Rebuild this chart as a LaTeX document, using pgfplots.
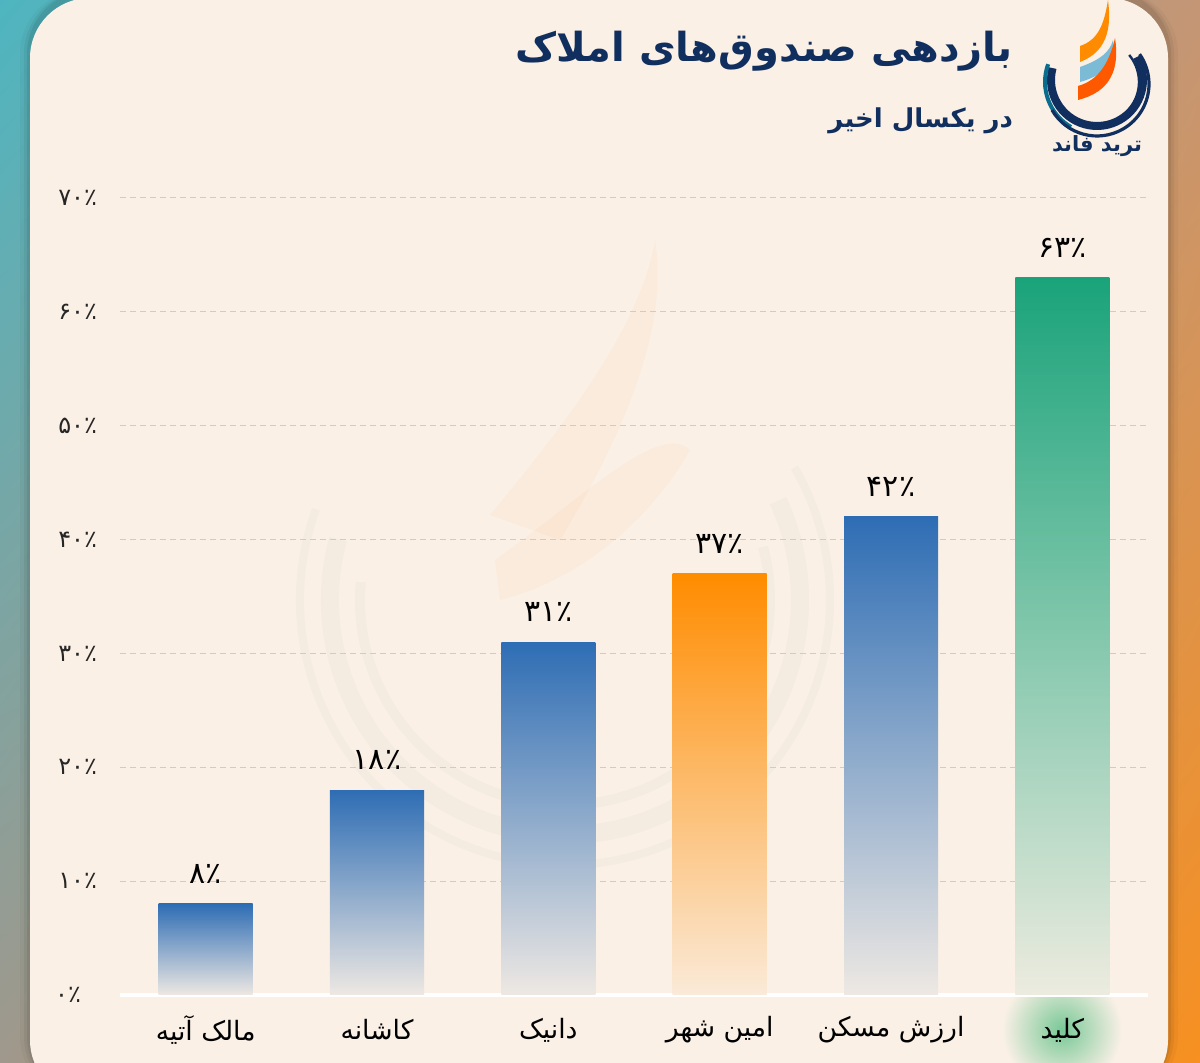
\documentclass[border=0pt]{standalone}
\usepackage{pgfplots}
\pgfplotsset{compat=1.18}
\usetikzlibrary{shadings}
\usepackage{fontspec}
\newfontfamily\arfont[Script=Arabic]{DejaVu Sans}
\TeXXeTstate=1
\definecolor{cream}{HTML}{FAF0E6}
\definecolor{barblue}{HTML}{2E6DB4}
\definecolor{barorange}{HTML}{FF8C00}
\definecolor{bargreen}{HTML}{1AA37A}
\definecolor{navy}{HTML}{102F5E}
\definecolor{gridc}{HTML}{D3CBC3}
\definecolor{bgul}{RGB}{78,181,192}
\definecolor{bgll}{RGB}{160,152,140}
\definecolor{bgur}{RGB}{196,150,118}
\definecolor{bglr}{RGB}{247,144,32}
\definecolor{glow}{RGB}{120,200,150}
\pgfplotsset{
  mybar/.style={ybar, bar width=47pt, bar shift=0pt, draw=none, top color=#1, bottom color=cream!94!#1,
    nodes near coords, point meta=explicit symbolic},
}
\begin{document}
\begin{tikzpicture}
\useasboundingbox (0,0) rectangle (600pt,531.5pt);
\shade[upper left=bgul, lower left=bgll, upper right=bgur, lower right=bglr]
  (0,0) rectangle (600pt,531.5pt);
\begin{scope}[yshift=531.5pt, x=0.5pt, y=-0.5pt]
  % card shadow
  \foreach \d/\o in {10/0.03,6/0.05,3/0.07}{
    \fill[black,opacity=\o,rounded corners=32pt] (30-\d,-10) rectangle (1168+\d,1100);
  }
  \fill[cream,rounded corners=30pt] (30,-2) rectangle (1168,1100);
  % faint watermark
  \begin{scope}[opacity=0.035]
    \draw[gray!80!black,line width=9pt] (565,600) ++(195:235) arc[start angle=195,end angle=-25,radius=235];
    \draw[gray!80!black,line width=5pt] (565,600) ++(185:205) arc[start angle=185,end angle=-15,radius=205];
    \draw[gray!80!black,line width=4pt] (565,600) ++(200:265) arc[start angle=200,end angle=-30,radius=265];
  \end{scope}
  \begin{scope}[opacity=0.045]
    \fill[orange] (490,515) .. controls (560,430) and (640,330) .. (655,240) .. controls (670,330) and (620,440) .. (560,540) -- cycle;
    \fill[orange] (495,560) .. controls (580,500) and (660,420) .. (690,450) .. controls (650,520) and (580,580) .. (500,600) -- cycle;
  \end{scope}
  % glow behind last category
  \shade[inner color=glow, outer color=cream] (1062,1030) circle[radius=60];
  % logo
  \fill[orange!90!yellow] (1080,46) .. controls (1098,40) and (1104,25) .. (1108,0) .. controls (1112,30) and (1106,52) .. (1080,62) -- cycle;
  \fill[cyan!45!teal!60!white] (1080,67) .. controls (1100,60) and (1110,52) .. (1113,40) .. controls (1116,60) and (1106,75) .. (1080,82) -- cycle;
  \fill[orange!70!red] (1078,86) .. controls (1100,80) and (1110,60) .. (1115,38) .. controls (1120,70) and (1110,92) .. (1078,100) -- cycle;
  \draw[navy,line width=4pt] (1097,80) ++(195:46) arc[start angle=195,end angle=-30,radius=46];
  \draw[navy!70!cyan,line width=2pt] (1097,82) ++(200:52) arc[start angle=200,end angle=120,radius=52];
  \draw[navy,line width=1.6pt] (1097,84) ++(150:52) arc[start angle=150,end angle=-35,radius=52];
  \draw[navy,line width=1.2pt] (1097,82) ++(120:42) arc[start angle=120,end angle=-40,radius=42];
  \node[navy,font=\arfont\bfseries\fontsize{10.5}{12}\selectfont] at (1097,146) {\beginR ترید فاند\endR};
  % titles
  \node[navy,anchor=east,font=\arfont\bfseries\fontsize{20}{24}\selectfont] at (1020,51) {\beginR بازدهی صندوق^^^^200cهای املاک\endR};
  \node[navy,anchor=east,font=\arfont\bfseries\fontsize{13}{16}\selectfont] at (1020,121) {\beginR در یکسال اخیر\endR};
\end{scope}
\begin{axis}[
  at={(60pt,34pt)}, anchor=south west,
  scale only axis, width=514pt, height=398.5pt,
  xmin=-0.5, xmax=5.5, ymin=0, ymax=70,
  axis line style={draw=none},
  major tick length=0pt,
  ytick={10,20,...,70},
  yticklabels={۱۰٪,۲۰٪,۳۰٪,۴۰٪,۵۰٪,۶۰٪,۷۰٪},
  extra y ticks={0}, extra y tick labels={۰٪},
  extra y tick style={grid style={white,line width=1.6pt,solid},
    yticklabel style={font=\arfont\fontsize{12}{14}\selectfont, text=black!85, anchor=east, xshift=-8pt}},
  ymajorgrids,
  grid style={gridc,line width=0.5pt,dash pattern=on 3pt off 2pt},
  yticklabel style={font=\arfont\fontsize{12}{14}\selectfont, text=black!85, anchor=east, xshift=-8pt},
  xtick={0,1,2,3,4,5},
  xticklabels={{\beginR مالک آتیه\endR},{\beginR کاشانه\endR},{\beginR دانیک\endR},{\beginR امین شهر\endR},{\beginR ارزش مسکن\endR},{\beginR کلید\endR}},
  xticklabel style={font=\arfont\fontsize{13.3}{15}\selectfont, text=black, anchor=center, yshift=-17.5pt},
  clip=false,
  nodes near coords style={font=\arfont\fontsize{15}{17}\selectfont, text=black, anchor=center, yshift=15pt},
]
\addplot[mybar=barblue] coordinates {(0,8) [۸٪]};
\addplot[mybar=barblue] coordinates {(1,18) [۱۸٪]};
\addplot[mybar=barblue] coordinates {(2,31) [۳۱٪]};
\addplot[mybar=barorange] coordinates {(3,37) [۳۷٪]};
\addplot[mybar=barblue] coordinates {(4,42) [۴۲٪]};
\addplot[mybar=bargreen] coordinates {(5,63) [۶۳٪]};
\end{axis}
\end{tikzpicture}
\end{document}
